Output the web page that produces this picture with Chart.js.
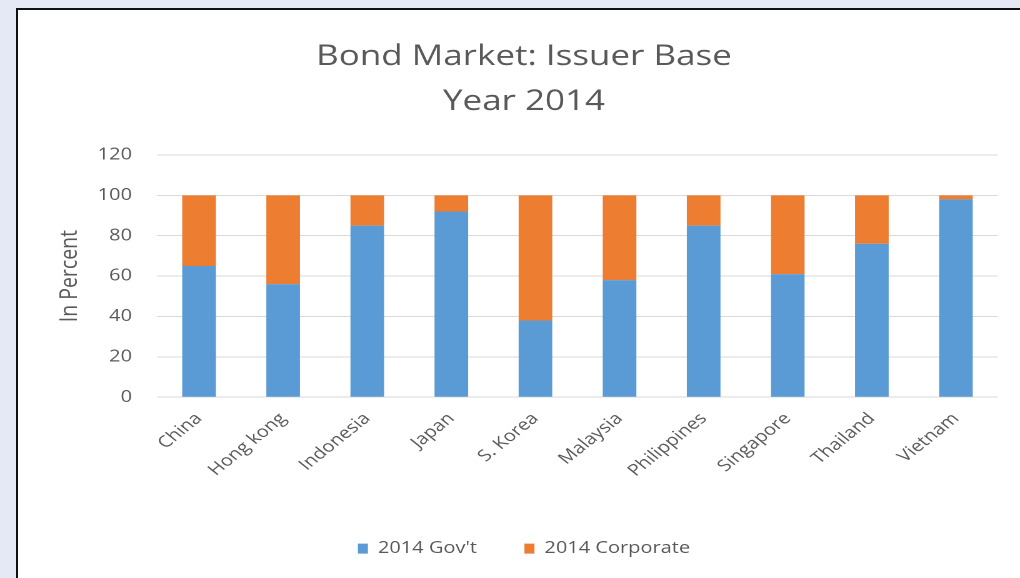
<!DOCTYPE html>
<html>
<head>
  <title>Bond Market: Issuer Base</title>
  <style>
    html, body { margin: 0; padding: 0; }
    body { width: 1020px; height: 578px; background: #e4e9f5; position: relative; overflow: hidden; }
    #panel { position: absolute; left: 16px; top: 8px; right: 0; bottom: 0; background: #fff;
             border-left: 2px solid #111; border-top: 2px solid #111; }
    /* chart is laid out 816 wide and widened to the full 1020 */
    #myChart { position: absolute; left: 0; top: 0; transform: scaleX(1.25); transform-origin: 0 0; }
  </style>
</head>
<body>
  <div id="panel"></div>
  <canvas id="myChart" width="816" height="578"></canvas>
  <script src="https://cdn.jsdelivr.net/npm/chart.js@4.4.0/dist/chart.umd.min.js"></script>

  <script>
    // share of bonds outstanding by issuer, 2014 (percent)
    let countries = ['China', 'Hong kong', 'Indonesia', 'Japan', 'S. Korea', 'Malaysia', 'Philippines', 'Singapore', 'Thailand', 'Vietnam'];
    let govShare = [65, 56, 85, 92, 38, 58, 85, 61, 76, 98];
    let corpShare = [35, 44, 15, 8, 62, 42, 15, 39, 24, 2];
    let yTicks = [0, 20, 40, 60, 80, 100, 120];

    let grey = '#595959';
    let fontName = "'Open Sans', sans-serif";

    let ctx = document.getElementById('myChart').getContext('2d');
    let chart = new Chart(ctx, {
      type: 'bar',
      data: {
        labels: countries,
        datasets: [{
          label: "2014 Gov't",
          data: govShare,
          backgroundColor: '#5b9bd5',
          categoryPercentage: 1,
          barPercentage: 0.4
        }, {
          label: '2014 Corporate',
          data: corpShare,
          backgroundColor: '#ed7d31',
          categoryPercentage: 1,
          barPercentage: 0.4
        }]
      },
      options: {
        responsive: false,
        animation: false,
        devicePixelRatio: 2,
        layout: { padding: { left: 40, right: 17.6, top: 10, bottom: 11.4 } },
        plugins: {
          title: {
            display: true,
            text: ['Bond Market: Issuer Base', 'Year 2014'],
            color: grey,
            font: { family: fontName, size: 28, weight: 'normal', lineHeight: 1.607 },
            padding: { top: 24.5, bottom: 30.5 }
          },
          legend: {
            position: 'bottom',
            labels: {
              color: grey,
              boxWidth: 8,
              boxHeight: 10,
              padding: 38,
              font: { family: fontName, size: 16 }
            }
          },
          tooltip: { enabled: false }
        },
        scales: {
          x: {
            stacked: true,
            grid: { display: false },
            border: { display: false },
            ticks: {
              color: grey,
              font: { family: fontName, size: 16 },
              minRotation: 45,
              maxRotation: 45,
              padding: 4
            },
            afterFit: function(scale) { scale.height = 105.4; }
          },
          y: {
            stacked: true,
            min: 0,
            max: 120,
            afterBuildTicks: function(scale) {
              scale.ticks = yTicks.map(v => ({ value: v }));
            },
            grid: { color: '#d9d9d9', drawTicks: false },
            border: { display: false },
            ticks: {
              color: grey,
              font: { family: fontName, size: 16 },
              padding: 20
            },
            title: {
              display: true,
              text: 'In Percent',
              color: grey,
              font: { family: fontName, size: 19.5 },
              padding: { top: 4.3, bottom: 0 }
            },
            afterFit: function(scale) { scale.width = 85.6; }
          }
        }
      }
    });
  </script>
</body>
</html>
